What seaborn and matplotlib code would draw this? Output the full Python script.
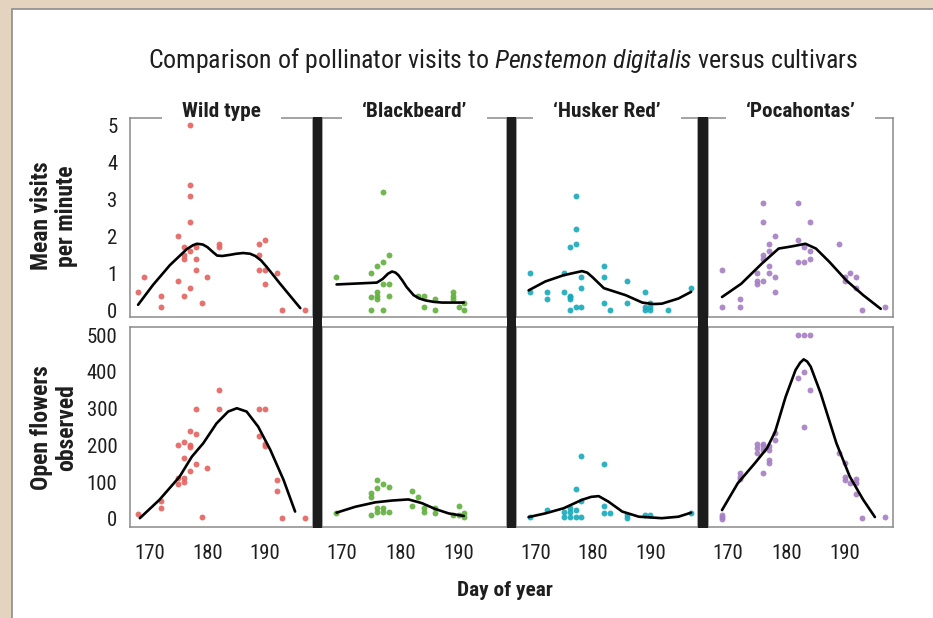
import matplotlib
matplotlib.use("Agg")
import matplotlib.pyplot as plt
import seaborn as sns
from matplotlib import font_manager
from matplotlib.patches import Rectangle

# ---------------- data ----------------
cultivars = ["Wild type", "\u2018Blackbeard\u2019", "\u2018Husker Red\u2019", "\u2018Pocahontas\u2019"]
colors = ["#e5625f", "#62b03c", "#17a9ba", "#a57fc2"]

visit_ticks = [0, 1, 2, 3, 4, 5]
flower_ticks = [0, 100, 200, 300, 400, 500]
day_ticks = [170, 180, 190]

# Wild type
wt_v_day = [168, 169, 172, 172, 175, 175, 176, 176, 176, 176, 177, 177, 177, 177, 177, 177,
            178, 178, 178, 179, 180, 182, 182, 189, 189, 189, 190, 190, 190, 192, 193, 197]
wt_v = [0.5, 0.9, 0.4, 0.1, 2.0, 0.8, 1.7, 1.5, 1.4, 0.4, 5.0, 3.4, 3.1, 2.4, 1.6, 0.6,
        1.7, 1.4, 1.1, 0.2, 0.9, 1.8, 1.7, 1.8, 1.5, 1.1, 1.9, 1.1, 0.7, 1.0, 0.0, 0.0]
wt_f_day = [168, 172, 172, 175, 175, 175, 176, 176, 176, 176, 177, 177, 177, 177, 178, 178, 178,
            179, 180, 182, 182, 189, 189, 190, 190, 190, 192, 192, 193, 197]
wt_f = [14, 50, 30, 200, 110, 95, 210, 165, 110, 100, 240, 200, 195, 130, 300, 230, 150,
        5, 138, 350, 300, 300, 225, 300, 205, 198, 105, 75, 2, 2]
wt_vc_x = [168.0, 170.6, 173.5, 176.4, 177.5, 178.2, 179.2, 180.0, 181.0, 181.7, 182.6, 183.9,
           185.0, 186.2, 187.4, 188.3, 189.3, 190.3, 192.6, 194.4, 196.1]
wt_vc_y = [0.15, 0.69, 1.22, 1.65, 1.76, 1.80, 1.78, 1.71, 1.57, 1.48, 1.47, 1.50,
           1.53, 1.55, 1.53, 1.47, 1.35, 1.17, 0.72, 0.38, 0.06]
wt_fc_x = [168.3, 171.7, 175.2, 177.3, 179.3, 181.6, 183.6, 185.1, 186.8, 188.8, 190.9, 193.2, 195.2]
wt_fc_y = [2, 52, 115, 169, 206, 260, 292, 301, 292, 251, 188, 106, 20]

# 'Blackbeard'
bb_v_day = [169, 175, 175, 175, 176, 176, 176, 176, 177, 177, 177, 177, 178, 178, 178,
            183, 184, 184, 186, 186, 189, 189, 189, 190, 191, 191]
bb_v = [0.9, 1.0, 0.35, 0.0, 1.2, 0.5, 0.4, 0.3, 3.2, 1.3, 0.7, 0.0, 1.5, 0.7, 0.4,
        0.4, 0.4, 0.1, 0.3, 0.0, 0.5, 0.4, 0.3, 0.1, 0.2, 0.0]
bb_f_day = [169, 175, 175, 175, 176, 176, 176, 176, 177, 177, 177, 178, 178, 182, 182,
            183, 184, 184, 186, 186, 189, 190, 190, 191, 191]
bb_f = [15, 70, 60, 10, 105, 85, 30, 20, 95, 30, 20, 88, 20, 75, 35,
        60, 30, 20, 30, 15, 10, 35, 10, 17, 5]
bb_vc_x = [169.1, 176.0, 177.0, 177.9, 178.6, 179.2, 179.7, 180.4, 181.1, 182.3, 183.3, 184.3, 185.7, 187.2, 190.9]
bb_vc_y = [0.70, 0.75, 0.85, 0.99, 1.05, 1.02, 0.95, 0.80, 0.63, 0.41, 0.32, 0.27, 0.23, 0.21, 0.21]
bb_fc_x = [169.1, 172.3, 175.7, 178.6, 181.4, 183.7, 186.0, 188.3, 190.9]
bb_fc_y = [17, 33, 45, 50, 53, 43, 27, 15, 8]

# 'Husker Red'
hr_v_day = [169, 169, 172, 172, 175, 175, 176, 176, 176, 176, 176, 177, 177, 177, 177,
            178, 178, 178, 182, 182, 182, 183, 186, 186, 189, 189, 189, 190, 190, 190, 193, 197]
hr_v = [1.0, 0.5, 0.5, 0.3, 1.0, 0.5, 1.7, 0.4, 0.35, 0.3, 0.0, 3.1, 2.2, 1.8, 0.1,
        0.9, 0.6, 0.1, 1.2, 0.9, 0.2, 0.0, 0.8, 0.2, 0.5, 0.1, 0.0, 0.2, 0.1, 0.0, 0.0, 0.6]
hr_f_day = [169, 172, 175, 175, 176, 176, 176, 177, 177, 177, 178, 178, 178,
            182, 182, 182, 183, 186, 186, 189, 190, 197]
hr_f = [5, 25, 20, 5, 30, 20, 5, 80, 25, 5, 170, 50, 5,
        150, 35, 15, 15, 12, 3, 12, 10, 15]
hr_vc_x = [168.8, 171.7, 174.9, 178.1, 179.0, 179.9, 181.9, 185.7, 188.6, 190.5, 192.0, 194.9, 197.1]
hr_vc_y = [0.54, 0.78, 0.95, 1.06, 1.02, 0.90, 0.60, 0.41, 0.21, 0.17, 0.18, 0.32, 0.50]
hr_fc_x = [168.8, 171.7, 174.9, 178.1, 179.7, 181.0, 182.7, 185.1, 188.0, 192.0, 194.9, 197.1]
hr_fc_y = [5, 15, 29, 52, 60, 62, 47, 20, 6, 2, 6, 17]

# 'Pocahontas'
po_v_day = [169, 169, 172, 172, 175, 175, 175, 176, 176, 176, 176, 176, 177, 177, 177, 177,
            178, 178, 178, 182, 182, 182, 183, 183, 184, 184, 184, 189, 190, 190, 191, 192, 192, 193, 197]
po_v = [1.1, 0.1, 0.3, 0.1, 1.0, 0.8, 0.7, 2.9, 2.4, 1.5, 1.4, 0.8, 1.8, 1.6, 1.2, 1.0,
        2.0, 0.9, 0.5, 2.9, 1.9, 1.3, 1.7, 1.3, 2.4, 1.6, 1.4, 1.8, 0.9, 0.8, 1.0, 0.9, 0.6, 0.0, 0.1]
po_f_day = [169, 169, 169, 172, 172, 172, 175, 175, 175, 176, 176, 176, 176, 177, 177, 177, 177,
            178, 178, 182, 182, 183, 183, 183, 184, 184, 189, 190, 190, 190, 191, 192, 192, 192, 193, 197]
po_f = [12, 5, 0, 125, 115, 108, 205, 192, 178, 205, 197, 188, 124, 197, 188, 160, 151,
        233, 215, 500, 382, 500, 400, 251, 500, 350, 178, 151, 113, 106, 99, 108, 99, 68, 2, 6]
po_vc_x = [169.0, 172.3, 175.8, 178.7, 181.0, 183.3, 185.1, 187.4, 190.3, 193.2, 196.2]
po_vc_y = [0.36, 0.72, 1.26, 1.67, 1.73, 1.80, 1.67, 1.31, 0.81, 0.41, 0.04]
po_fc_x = [169.0, 171.7, 174.6, 176.7, 178.1, 179.9, 181.6, 182.4, 183.0, 183.6, 184.2, 185.9,
           188.6, 190.9, 193.2, 195.2]
po_fc_y = [24, 97, 151, 192, 237, 332, 405, 425, 434, 428, 414, 342, 206, 115, 52, 5]

visits = [(wt_v_day, wt_v, wt_vc_x, wt_vc_y), (bb_v_day, bb_v, bb_vc_x, bb_vc_y),
          (hr_v_day, hr_v, hr_vc_x, hr_vc_y), (po_v_day, po_v, po_vc_x, po_vc_y)]
flowers = [(wt_f_day, wt_f, wt_fc_x, wt_fc_y), (bb_f_day, bb_f, bb_fc_x, bb_fc_y),
           (hr_f_day, hr_f, hr_fc_x, hr_fc_y), (po_f_day, po_f, po_fc_x, po_fc_y)]

# ---------------- fonts ----------------
sns.set_style("white")
COND_STRETCH = {"condensed", "semi-condensed", "extra-condensed", "ultra-condensed"}
cond_names = []
for f in font_manager.fontManager.ttflist:
    st = f.stretch
    is_cond = (st in COND_STRETCH) or (isinstance(st, (int, float)) and st < 500) \
        or ("Condensed" in f.name) or ("Narrow" in f.name)
    if is_cond:
        cond_names.append(f.name)
prefs = ["Liberation Sans Narrow", "Roboto Condensed", "Noto Sans Condensed", "Noto Sans",
         "Open Sans Condensed", "Open Sans", "DejaVu Sans Condensed", "DejaVu Sans"]
FAM = None
for p in prefs:
    if p in cond_names:
        FAM = p
        break
if FAM is None and cond_names:
    FAM = sorted(cond_names)[0]
if FAM is None:
    FAM = "Liberation Sans"
    STRETCH = "normal"
else:
    STRETCH = "condensed"

plt.rcParams["font.family"] = [FAM, "DejaVu Sans"]
plt.rcParams["font.stretch"] = STRETCH
plt.rcParams["mathtext.fontset"] = "custom"
sfx = ":stretch=condensed" if STRETCH == "condensed" else ""
plt.rcParams["mathtext.rm"] = FAM + sfx
plt.rcParams["mathtext.it"] = FAM + ":style=italic" + sfx

# ---------------- figure ----------------
W, H = 933, 618
fig = plt.figure(figsize=(W / 100, H / 100), dpi=100)
fig.patch.set_facecolor("#e3d3bf")


def fx(x):
    return x / W


def fy(y):
    return 1 - y / H


fig.add_artist(Rectangle((fx(12), fy(619)), (W - 12 + 5) / W, (619 - 9) / H,
                         transform=fig.transFigure, facecolor="white",
                         edgecolor="#8c8c8c", lw=1.2, zorder=-10))

lefts = [130, 322, 516, 708]
rights = [313, 507, 698, 893]
rows = [(118, 317), (327, 527)]
TEXT = "#1e1e1e"
SPINE = "#8a8a8a"

axes = {}
for r, (top, bot) in enumerate(rows):
    for c in range(4):
        ax = fig.add_axes([fx(lefts[c]), fy(bot), (rights[c] - lefts[c]) / W, (bot - top) / H])
        axes[(r, c)] = ax
        ax.set_facecolor("white")
        d, v, cx, cy = (visits if r == 0 else flowers)[c]
        sns.scatterplot(x=d, y=v, ax=ax, color=colors[c], s=18, linewidth=0, alpha=0.9, zorder=2)
        sns.lineplot(x=cx, y=cy, ax=ax, color="black", lw=1.9, sort=False, estimator=None, zorder=3)
        ax.set_xlim(166.6, 198.3)
        if r == 0:
            ax.set_ylim(-0.18, 5.2)
            ax.set_yticks(visit_ticks)
        else:
            ax.set_ylim(-22, 522)
            ax.set_yticks(flower_ticks)
        ax.set_xticks(day_ticks)
        ax.set_xlabel("")
        ax.set_ylabel("")
        for s in ax.spines.values():
            s.set_color(SPINE)
            s.set_linewidth(1.1)
        ax.tick_params(axis="both", direction="out", length=6, width=1, color="#555555",
                       labelsize=12.5, labelcolor=TEXT, pad=3)
        if c != 0:
            ax.tick_params(axis="y", left=False, labelleft=False)
        if r == 0:
            ax.tick_params(axis="x", bottom=False, labelbottom=False)
        else:
            ax.tick_params(axis="x", pad=6)

# black separator bars
for i in range(3):
    fig.add_artist(Rectangle((fx(rights[i]), fy(528)), (lefts[i + 1] - rights[i]) / W, (528 - 117) / H,
                             transform=fig.transFigure, facecolor="#1c1c1c", edgecolor="none", zorder=5))

strip_texts = []
for c in range(4):
    cxp = (lefts[c] + rights[c]) / 2
    t = fig.text(fx(cxp), fy(117), cultivars[c], ha="center", va="baseline",
                 fontsize=15, weight="bold", color=TEXT, zorder=8)
    strip_texts.append(t)

title = fig.text(fx(503), fy(68),
                 r"Comparison of pollinator visits to $\mathit{Penstemon\ digitalis}$ versus cultivars",
                 ha="center", va="baseline", fontsize=18, color=TEXT)

yl1 = fig.text(fx(54), fy(216), "Mean visits\nper minute", rotation=90, ha="center", va="center",
               fontsize=14.5, weight="bold", color=TEXT, linespacing=1.1, multialignment="center")
yl2 = fig.text(fx(54), fy(428), "Open flowers\nobserved", rotation=90, ha="center", va="center",
               fontsize=14.5, weight="bold", color=TEXT, linespacing=1.1, multialignment="center")
xl = fig.text(fx(505), fy(590), "Day of year", ha="center", va="center",
              fontsize=14.5, weight="bold", color=TEXT)

# fit text sizes to the widths measured on the reference
fig.canvas.draw()
rend = fig.canvas.get_renderer()


def fit(t, target, vertical=False):
    bb = t.get_window_extent(rend)
    cur = bb.height if vertical else bb.width
    if cur > 0:
        t.set_fontsize(t.get_fontsize() * target / cur)


fit(title, 710)
bbw = strip_texts[0].get_window_extent(rend).width
for t in strip_texts:
    t.set_fontsize(t.get_fontsize() * 79 / bbw)
fit(yl2, 125, vertical=True)
yl1.set_fontsize(yl2.get_fontsize())
fit(xl, 96)

lab500 = [l for l in axes[(1, 0)].get_yticklabels() if l.get_text() == "500"]
tick_size = 12.5
if lab500:
    w = lab500[0].get_window_extent(rend).width
    if w > 0:
        tick_size = 12.5 * 31 / w
for ax in axes.values():
    ax.tick_params(axis="both", labelsize=tick_size)

fig.canvas.draw()
for t in strip_texts:
    bb = t.get_window_extent(rend)
    x0 = bb.x0 - 20
    x1 = bb.x1 + 20
    fig.add_artist(Rectangle((x0 / W, fy(121)), (x1 - x0) / W, 26 / H,
                             transform=fig.transFigure, facecolor="white", edgecolor="none", zorder=7))

fig.savefig("out.png", dpi=100, facecolor=fig.get_facecolor())
